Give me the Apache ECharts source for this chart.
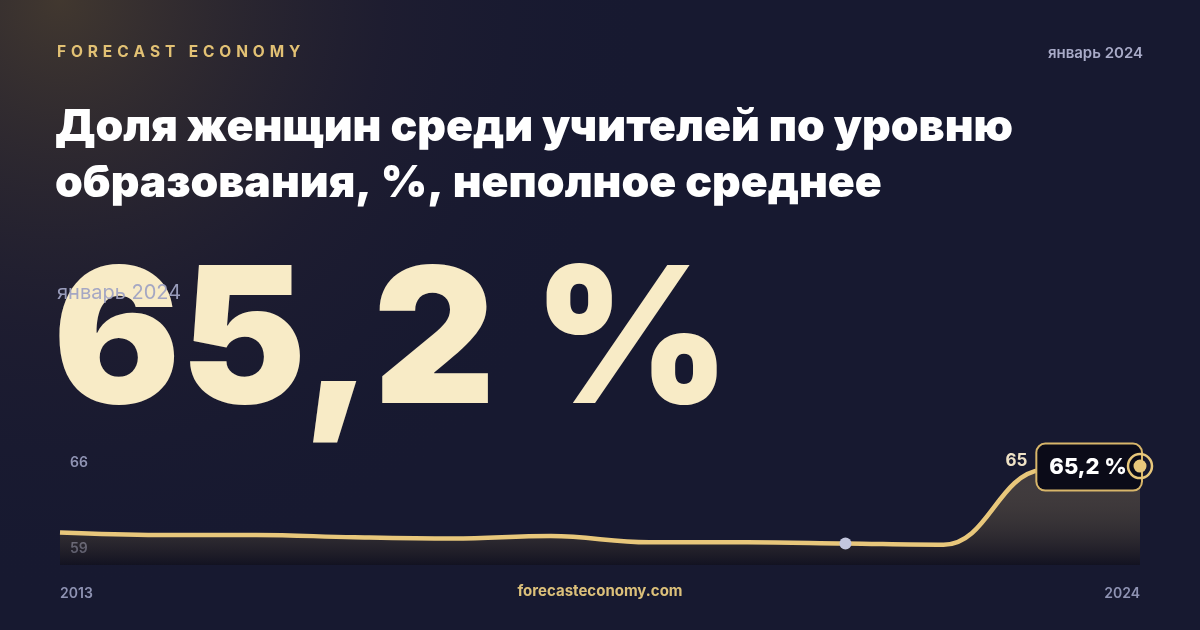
<!DOCTYPE html>
<html>
<head>
<meta charset="utf-8">
<script src="https://cdn.jsdelivr.net/npm/echarts@6/dist/echarts.min.js"></script>
<style>
  html, body { margin: 0; padding: 0; background: #171930; }
  #main { width: 1200px; height: 630px; }
</style>
</head>
<body>
<div id="main"></div>
<script>
// данные: доля женщин среди учителей, неполное среднее, %
var years = ['2013', '2014', '2015', '2016', '2017', '2018', '2019', '2020', '2021', '2022', '2023', '2024'];
var values = [59.8, 59.6, 59.6, 59.4, 59.3, 59.5, 59.0, 59.0, 58.9, 58.8, 64.9, 65.2];
var yLabels = [59, 66];
var markIndex = 8;   // серая точка
var title = ['Доля женщин среди учителей по уровню', 'образования, %, неполное среднее'];
var period = 'январь 2024';

var myChart = echarts.init(document.getElementById('main'));
var gold = '#e8c77b';
var font = 'Inter, "Noto Sans", sans-serif';
var last = values.length - 1;

function fmt(v) {
    return v.toFixed(1).replace('.', ',') + ' %';
}

var lineData = values.map(function (v, i) {
    if (i === markIndex) {
        return { value: v, symbol: 'circle', symbolSize: 12, itemStyle: { color: '#c3c6de' } };
    }
    if (i === last - 1) {
        return {
            value: v, symbol: 'circle', symbolSize: 1, itemStyle: { color: 'transparent' },
            label: {
                show: true, position: 'left', distance: 14, offset: [0, -9],
                formatter: String(Math.round(v)),
                color: '#efe2c6', fontSize: 17, fontWeight: 700, fontFamily: font
            }
        };
    }
    if (i === last) {
        return {
            value: v, symbol: 'circle', symbolSize: 12, itemStyle: { color: gold },
            label: {
                show: true, position: 'left', distance: 0, offset: [7, 1],
                formatter: fmt(v),
                color: '#ffffff', fontSize: 22, fontWeight: 800, fontFamily: font,
                backgroundColor: '#0b0b18', borderColor: '#d8b66a', borderWidth: 2,
                borderRadius: 8, padding: [12, 14, 11, 12]
            }
        };
    }
    return v;
});

// разреженная надпись бренда
var brand = 'FORECAST ECONOMY'.split('').join('\u2009\u2009');

option = {
    backgroundColor: '#171930',
    animation: false,
    graphic: [{
        type: 'rect',
        z: -10,
        shape: { x: 0, y: 0, width: 1200, height: 630 },
        style: {
            fill: {
                type: 'radial', x: 0.05, y: 0, r: 0.95,
                colorStops: [
                    { offset: 0, color: 'rgba(70,59,47,0.9)' },
                    { offset: 0.55, color: 'rgba(36,32,48,0.5)' },
                    { offset: 1, color: 'rgba(23,25,48,0)' }
                ]
            }
        },
        silent: true
    }, {
        type: 'text', left: 57, top: 44,
        style: { text: brand, fill: '#e2c174', font: '700 15.5px ' + font }
    }, {
        type: 'text', right: 57, top: 46,
        style: { text: period, fill: '#a9abc8', font: '600 15px ' + font }
    }, {
        type: 'text', left: 55, top: 100,
        style: { text: title.join('\n'), fill: '#ffffff', font: '900 44.5px ' + font, lineHeight: 56 }
    }, {
        type: 'text', left: 53, top: 252,
        style: {
            text: fmt(values[last]),
            font: '900 189px ' + font,
            fill: '#f8ebc6',
            shadowColor: 'rgba(0,0,0,0.55)', shadowBlur: 24, shadowOffsetY: 10
        }
    }, {
        type: 'text', left: 57, top: 283,
        style: { text: period, fill: 'rgba(160,163,195,0.95)', font: '400 20px ' + font }
    }, {
        type: 'text', left: 'center', top: 584,
        style: { text: 'forecasteconomy.com', fill: '#dcc07a', font: '700 15px ' + font }
    }],
    grid: { left: 60, right: 60, top: 440, bottom: 65 },
    xAxis: {
        type: 'category',
        data: years,
        boundaryGap: false,
        axisLine: { show: false },
        axisTick: { show: false },
        axisLabel: {
            interval: function (i) { return i === 0 || i === last; },
            alignMinLabel: 'left',
            alignMaxLabel: 'right',
            margin: 22,
            color: '#8f93b3', fontSize: 14, fontWeight: 600, fontFamily: font
        }
    },
    yAxis: {
        type: 'value',
        min: 57.15,
        max: 67.32,
        splitLine: { show: false },
        axisLine: { show: false },
        axisTick: { show: false },
        axisLabel: {
            customValues: yLabels,
            inside: true,
            margin: 10,
            verticalAlign: 'top',
            color: '#8f93b3', fontSize: 14, fontWeight: 600, fontFamily: font
        }
    },
    series: [{
        type: 'line',
        data: lineData,
        smooth: 0.4,
        symbol: 'none',
        lineStyle: { color: gold, width: 4.5 },
        areaStyle: {
            color: {
                type: 'linear', x: 0, y: 0, x2: 0, y2: 1,
                colorStops: [
                    { offset: 0, color: 'rgba(232,199,123,0.26)' },
                    { offset: 1, color: 'rgba(14,12,20,0.75)' }
                ]
            }
        },
        markPoint: {
            silent: true,
            label: { show: false },
            data: [{
                coord: [years[last], values[last]],
                symbol: 'circle', symbolSize: 24,
                itemStyle: { color: 'transparent', borderColor: gold, borderWidth: 2.5 }
            }, {
                coord: [years[last], values[last]],
                symbol: 'circle', symbolSize: 13,
                itemStyle: { color: gold }
            }]
        },
        z: 3
    }]
};
myChart.setOption(option);
</script>
</body>
</html>
